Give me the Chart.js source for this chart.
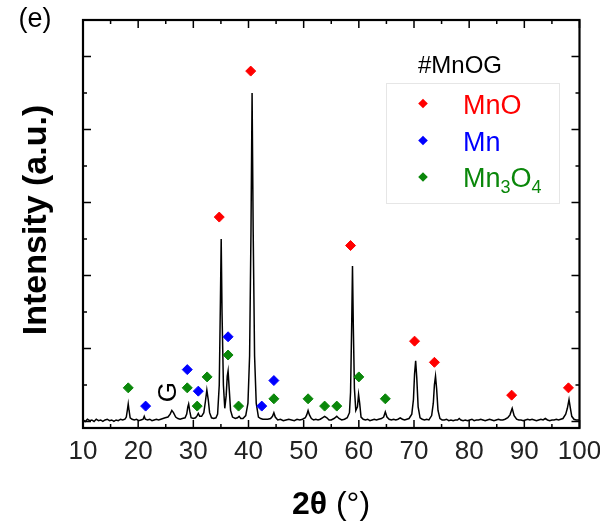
<!DOCTYPE html>
<html>
<head>
<meta charset="utf-8">
<script src="https://cdn.jsdelivr.net/npm/chart.js@4.4.1/dist/chart.umd.min.js"></script>
<style>
  html, body { margin: 0; padding: 0; background: #ffffff; }
  #wrap { width: 600px; height: 523px; position: relative; }
</style>
</head>
<body>
<div id="wrap"><canvas id="c" width="600" height="523"></canvas></div>
<script>
// ---------- data ----------
const xTicks = [10, 20, 30, 40, 50, 60, 70, 80, 90, 100];

const twoTheta = [
  10.0, 10.4, 10.8, 11.2, 11.6, 12.0, 12.4, 12.8, 13.2, 13.6, 14.0, 14.4, 14.8, 15.2, 15.6, 16.0, 16.4, 16.8, 17.2, 17.6,
  17.85, 18.05, 18.2, 18.35, 18.55, 18.9, 19.3, 19.7, 20.1, 20.5,
  20.9, 21.1, 21.3, 21.7, 22.1, 22.5, 22.9, 23.3, 23.7, 24.1, 24.5, 24.9,
  25.4, 25.8, 26.1, 26.4, 26.8, 27.2, 27.6, 28.0, 28.5,
  28.8, 29.0, 29.15, 29.35, 29.6, 30.0, 30.4,
  30.7, 30.9, 31.15, 31.5,
  31.9, 32.2, 32.45, 32.7, 32.95, 33.3, 33.7, 34.1, 34.4,
  34.7, 34.9, 35.05, 35.2, 35.45, 35.7,
  35.95, 36.15, 36.3, 36.5, 36.75, 37.1, 37.6, 38.0, 38.3, 38.6, 39.0, 39.5,
  39.9, 40.2, 40.45, 40.65, 40.85, 41.1, 41.4, 41.8, 42.2, 42.6, 43.0, 43.5, 44.0,
  44.35, 44.6, 44.85, 45.3, 45.8, 46.3, 46.8, 47.3, 47.8, 48.3, 48.8, 49.3, 49.8, 50.3,
  50.55, 50.8, 51.05, 51.4, 51.8, 52.2, 52.6, 53.0, 53.4, 53.8, 54.2, 54.6, 55.0, 55.5, 56.0, 56.4, 56.9, 57.4, 57.9, 58.3,
  58.5, 58.7, 58.85, 59.0, 59.2, 59.45,
  59.75, 59.95, 60.15, 60.4, 60.8, 61.2, 61.6, 62.0, 62.4, 62.8, 63.2, 63.6, 64.1,
  64.5, 64.8, 65.1, 65.5, 65.9, 66.3, 66.7, 67.1, 67.5, 67.9, 68.3, 68.7, 69.1, 69.6,
  69.9, 70.1, 70.3, 70.5, 70.75, 71.1, 71.5, 71.9, 72.3, 72.7, 73.2,
  73.5, 73.7, 73.9, 74.1, 74.35, 74.7, 75.1, 75.5, 75.9, 76.3, 76.7, 77.1, 77.5, 77.9, 78.2, 78.5, 78.9, 79.3, 79.7,
  80.1, 80.5, 80.9, 81.3, 81.7, 82.1, 82.5, 82.9, 83.3, 83.7, 84.1, 84.5, 84.9, 85.3, 85.7, 86.1, 86.5, 87.0,
  87.4, 87.8, 88.15, 88.6, 89.0, 89.4, 89.8, 90.2, 90.6, 91.0, 91.4, 91.8, 92.2, 92.6, 93.0, 93.4, 93.8, 94.2, 94.6,
  95.0, 95.4, 95.8, 96.2, 96.6, 97.0, 97.5,
  97.8, 98.1, 98.35, 98.6, 99.0, 99.4, 99.8, 100.0
];

const intensity = [
  0.02, 0.00, 0.03, 0.01, 0.02, 0.00, 0.03, 0.01, 0.02, 0.00, 0.02, 0.03, 0.01, 0.02, 0.00, 0.02, 0.01, 0.03, 0.02, 0.03,
  0.06, 0.16, 0.24, 0.15, 0.05, 0.03, 0.02, 0.03, 0.01, 0.02,
  0.03, 0.07, 0.03, 0.02, 0.03, 0.01, 0.02, 0.03, 0.02, 0.03, 0.04, 0.05,
  0.06, 0.10, 0.15, 0.12, 0.06, 0.04, 0.03, 0.04, 0.05,
  0.10, 0.20, 0.24, 0.14, 0.05, 0.04, 0.05,
  0.08, 0.11, 0.07, 0.07,
  0.12, 0.28, 0.43, 0.30, 0.12, 0.05, 0.04, 0.05, 0.10,
  0.50, 1.60, 2.50, 1.50, 0.50, 0.18,
  0.35, 0.62, 0.69, 0.45, 0.15, 0.06, 0.04, 0.05, 0.07, 0.04, 0.04, 0.08,
  0.25, 0.90, 2.60, 4.50, 2.60, 0.90, 0.25, 0.06, 0.04, 0.03, 0.03, 0.03, 0.04,
  0.07, 0.12, 0.06, 0.02, 0.03, 0.01, 0.02, 0.03, 0.02, 0.01, 0.03, 0.02, 0.03, 0.05,
  0.09, 0.15, 0.09, 0.04, 0.02, 0.03, 0.02, 0.03, 0.05, 0.07, 0.05, 0.02, 0.02, 0.04, 0.07, 0.04, 0.02, 0.03, 0.05, 0.12,
  0.40, 1.30, 2.13, 1.30, 0.45, 0.15,
  0.20, 0.37, 0.25, 0.06, 0.03, 0.02, 0.03, 0.01, 0.02, 0.03, 0.02, 0.03, 0.04,
  0.06, 0.13, 0.06, 0.03, 0.02, 0.03, 0.02, 0.03, 0.05, 0.03, 0.02, 0.03, 0.04, 0.10,
  0.30, 0.65, 0.83, 0.60, 0.20, 0.05, 0.03, 0.02, 0.03, 0.02, 0.08,
  0.25, 0.50, 0.62, 0.45, 0.15, 0.04, 0.02, 0.02, 0.03, 0.01, 0.02, 0.01, 0.02, 0.02, 0.04, 0.02, 0.01, 0.02, 0.01,
  0.02, 0.03, 0.01, 0.02, 0.02, 0.03, 0.02, 0.01, 0.02, 0.03, 0.02, 0.01, 0.02, 0.03, 0.02, 0.02, 0.03, 0.05,
  0.09, 0.18, 0.08, 0.03, 0.02, 0.02, 0.01, 0.02, 0.03, 0.02, 0.03, 0.02, 0.01, 0.02, 0.03, 0.02, 0.04, 0.02, 0.01,
  0.02, 0.02, 0.03, 0.02, 0.03, 0.04, 0.10,
  0.18, 0.30, 0.18, 0.07, 0.03, 0.02, 0.02, 0.02
];

// phase markers (diamonds)
const mnoX = [34.7, 40.4, 58.5, 70.1, 73.7, 87.7, 98.0];
const mnoY = [2.80, 4.80, 2.41, 1.10, 0.81, 0.36, 0.46];

const mnX = [21.35, 28.9, 30.9, 36.3, 42.4, 44.6];
const mnY = [0.21, 0.71, 0.415, 1.16, 0.21, 0.56];

const mn3o4X = [18.2, 28.9, 30.7, 32.5, 36.3, 38.2, 44.6, 50.8, 53.8, 56.0, 60.0, 64.8];
const mn3o4Y = [0.46, 0.46, 0.21, 0.61, 0.91, 0.21, 0.31, 0.31, 0.21, 0.21, 0.61, 0.31];

const legendTitle = '#MnOG';
const seriesNames = ['MnO', 'Mn', 'Mn3O4'];
const seriesColors = ['#ff0000', '#0000ff', '#0a870a'];

// ---------- build datasets ----------
const zip = (xs, ys) => xs.map((x, i) => ({ x: x, y: ys[i] }));

const FONT = "'Liberation Sans', Arial, sans-serif";

const decorPlugin = {
  id: 'decor',
  afterDraw(chart) {
    const ctx = chart.ctx;
    const a = chart.chartArea;
    const xs = chart.scales.x, ys = chart.scales.y;
    ctx.save();
    ctx.strokeStyle = '#000';
    ctx.lineWidth = 1.5;
    // inner ticks x
    for (let v = 10; v <= 100; v += 5) {
      const px = xs.getPixelForValue(v);
      const len = (v % 10 === 0) ? 8 : 4;
      ctx.beginPath();
      ctx.moveTo(px, a.bottom); ctx.lineTo(px, a.bottom - len);
      ctx.moveTo(px, a.top); ctx.lineTo(px, a.top + len);
      ctx.stroke();
    }
    // inner ticks y
    for (let k = 0; k <= 10; k++) {
      const v = k * 0.5;
      const py = ys.getPixelForValue(v);
      const len = (k % 2 === 0) ? 8 : 4;
      ctx.beginPath();
      ctx.moveTo(a.left, py); ctx.lineTo(a.left + len, py);
      ctx.moveTo(a.right, py); ctx.lineTo(a.right - len, py);
      ctx.stroke();
    }
    // frame
    ctx.lineWidth = 2.2;
    ctx.strokeRect(a.left, a.top, a.right - a.left, a.bottom - a.top);

    // legend box
    ctx.lineWidth = 1;
    ctx.strokeStyle = '#e6e6e6';
    ctx.strokeRect(386.5, 83.5, 173, 120);

    ctx.fillStyle = '#000';
    ctx.textAlign = 'left';
    ctx.textBaseline = 'alphabetic';
    ctx.font = '24px ' + FONT;
    ctx.fillText(legendTitle, 418, 73);

    const rows = [113.5, 151, 187];
    const dy = [103.5, 140.5, 177];
    seriesNames.forEach((name, i) => {
      ctx.fillStyle = seriesColors[i];
      const cx = 423, cy = dy[i], r = 4.8;
      ctx.beginPath();
      ctx.moveTo(cx - r, cy); ctx.lineTo(cx, cy - r); ctx.lineTo(cx + r, cy); ctx.lineTo(cx, cy + r);
      ctx.closePath(); ctx.fill();
      ctx.font = '27px ' + FONT;
      if (name === 'Mn3O4') {
        let x = 463;
        ctx.fillText('Mn', x, rows[i]); x += ctx.measureText('Mn').width;
        ctx.font = '18px ' + FONT;
        ctx.fillText('3', x, rows[i] + 6); x += ctx.measureText('3').width;
        ctx.font = '27px ' + FONT;
        ctx.fillText('O', x, rows[i]); x += ctx.measureText('O').width;
        ctx.font = '18px ' + FONT;
        ctx.fillText('4', x, rows[i] + 6);
      } else {
        ctx.fillText(name, 463, rows[i]);
      }
    });

    // panel label
    ctx.fillStyle = '#000';
    ctx.font = '27px ' + FONT;
    ctx.textAlign = 'center';
    ctx.fillText('(e)', 35, 27);

    // G annotation (graphite)
    ctx.save();
    ctx.translate(xs.getPixelForValue(25.5), ys.getPixelForValue(0.40));
    ctx.rotate(-Math.PI / 2);
    ctx.font = '26px ' + FONT;
    ctx.textAlign = 'center';
    ctx.textBaseline = 'middle';
    ctx.fillText('G', 0, 0);
    ctx.restore();

    // y title
    ctx.save();
    ctx.translate(46, 220);
    ctx.rotate(-Math.PI / 2);
    ctx.font = 'bold 34px ' + FONT;
    ctx.textAlign = 'center';
    ctx.textBaseline = 'alphabetic';
    ctx.fillText('Intensity (a.u.)', 0, 0);
    ctx.restore();

    // x title: bold 2θ + normal (°)
    const p1 = '2\u03B8', p2 = ' (\u00B0)';
    ctx.textAlign = 'left';
    ctx.font = 'bold 32px ' + FONT;
    const w1 = ctx.measureText(p1).width;
    ctx.font = '32px ' + FONT;
    const w2 = ctx.measureText(p2).width;
    const x0 = 331 - (w1 + w2) / 2;
    ctx.font = 'bold 32px ' + FONT;
    ctx.fillText(p1, x0, 514);
    ctx.font = '32px ' + FONT;
    ctx.fillText(p2, x0 + w1, 514);
    ctx.restore();
  }
};

const markerDs = (label, xs, ys, color) => ({
  label: label,
  data: zip(xs, ys),
  showLine: false,
  pointStyle: 'rectRot',
  pointRadius: 5,
  pointBorderWidth: 1,
  backgroundColor: color,
  borderColor: color
});

new Chart(document.getElementById('c'), {
  type: 'scatter',
  data: {
    datasets: [
      {
        label: 'pattern',
        data: zip(twoTheta, intensity),
        showLine: true,
        borderColor: '#000',
        borderWidth: 1.5,
        pointRadius: 0,
        tension: 0,
        order: 5
      },
      markerDs(seriesNames[0], mnoX, mnoY, seriesColors[0]),
      markerDs(seriesNames[1], mnX, mnY, seriesColors[1]),
      markerDs(seriesNames[2], mn3o4X, mn3o4Y, seriesColors[2])
    ]
  },
  options: {
    responsive: false,
    animation: false,
    devicePixelRatio: 1,
    layout: { padding: { top: 20, right: 20.5, left: 0, bottom: 0 } },
    plugins: { legend: { display: false }, tooltip: { enabled: false } },
    scales: {
      x: {
        type: 'linear',
        min: 10, max: 100,
        afterBuildTicks: (s) => { s.ticks = xTicks.map(v => ({ value: v })); },
        afterFit: (s) => { s.height = 95; s.paddingLeft = 0; s.paddingRight = 0; },
        ticks: { font: { size: 26, family: FONT }, color: '#222', padding: 8, maxRotation: 0, autoSkip: false },
        grid: { display: false, drawTicks: false },
        border: { display: false }
      },
      y: {
        min: -0.09, max: 5.5,
        afterFit: (s) => { s.width = 83; },
        ticks: { display: false },
        grid: { display: false, drawTicks: false },
        border: { display: false }
      }
    }
  },
  plugins: [decorPlugin]
});
</script>
</body>
</html>
